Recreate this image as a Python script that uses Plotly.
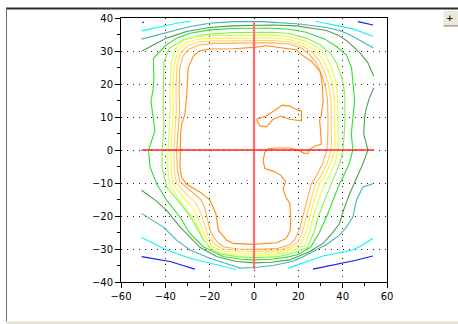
import plotly.graph_objects as go

# ---------------- data ----------------
x_tickvals = [-60, -40, -20, 0, 20, 40, 60]
x_ticktext = ["\u221260", "\u221240", "\u221220", "0", "20", "40", "60"]
y_tickvals = [-40, -30, -20, -10, 0, 10, 20, 30, 40]
y_ticktext = ["\u221240", "\u221230", "\u221220", "\u221210", "0", "10", "20", "30", "40"]

# innermost orange contour
orange_main = [(0, 31.1), (5.6, 31.6), (13.1, 30.9), (19.1, 30.4), (21.4, 28.9), (25.9, 26.9), (29.7, 23.9),
               (30.4, 21.8), (30.9, 18.8), (31.2, 14.8), (30.4, 10.8), (29.6, 8.8), (29.9, 6.8), (30.4, 2.8),
               (30.4, 1.8), (27.5, 1.2), (25.1, 0.2), (24.2, -1.2), (22, -0.8), (19.9, 0), (16.1, 0.6),
               (10.1, 0.6), (6.4, 0.4), (4.9, -0.7), (4.1, -3.2), (4.9, -5.6), (8.6, -6.4), (12.0, -7.6),
               (14.3, -9.6), (13.1, -11.7), (14.3, -14.2), (16.1, -16.2), (16.6, -20.3), (16.4, -24.3),
               (14.6, -26.8), (10.1, -28.1), (0, -28.6), (-9.4, -28.3), (-12.4, -27.3), (-16.1, -24.3),
               (-17.2, -19.2), (-19.9, -15.2), (-24.4, -12.7), (-30.4, -10.4), (-32.7, -8.2), (-33.4, -5.2),
               (-33.4, 0), (-33.1, 4.8), (-32.7, 7.8), (-31.2, 10.8), (-30.4, 15.8), (-30.1, 20.9),
               (-29.7, 24.9), (-27.4, 28.4), (-24.4, 30.1), (-19.9, 30.6), (-9.4, 30.7), (0, 31.1)]
orange_island = [(1.1, 9.3), (2.6, 7.3), (5.6, 7.0), (8.6, 9.3), (12.4, 10.3), (16.1, 9.3), (21.4, 8.8),
                 (21.4, 11.8), (19.9, 12.0), (16.1, 13.3), (12.8, 13.6), (10.1, 12.3), (5.6, 10.3), (1.1, 9.3)]
orange_dot = [(-3.3, -9.0), (-2.9, -9.4)]

ring_light_orange = [(-34.9, 0), (-34.4, 4), (-34, 8), (-33.5, 12), (-33.8, 17), (-33.6, 22), (-33.5, 25),
                     (-32, 28.5), (-29.5, 30.5), (-25, 31.8), (-18, 32.3), (-8, 32.4), (0, 32.4), (8, 32.5),
                     (16, 32.1), (21, 31), (25, 29), (28, 26.5), (30.5, 23), (32.3, 19), (33.2, 15), (33.4, 8),
                     (33.2, 3), (32.9, 0), (31, -4), (28, -8), (25.9, -10.2), (24, -15), (22.1, -20.3),
                     (20.5, -24), (18.5, -27), (16.1, -28.8), (10, -29.9), (0, -30.1), (-7, -30),
                     (-13.5, -29.4), (-16.5, -28), (-19.5, -25), (-21, -21), (-22, -18), (-24, -15),
                     (-29, -12.2), (-33.5, -9.5), (-34.6, -6), (-34.9, 0)]
ring_peach = [(-36.1, 0), (-35.8, 4), (-35.4, 8), (-35, 12), (-35.2, 17), (-35, 22), (-34.8, 25.5),
              (-33.2, 29.2), (-30.3, 31.5), (-25.5, 32.7), (-18, 33.1), (-8, 33.1), (0, 33.1), (8, 33.2),
              (16, 32.8), (22, 31.5), (26.5, 29.5), (29.5, 27), (32, 23.5), (33.8, 19.5), (34.7, 15), (35, 8),
              (35, 3), (34.9, 0), (33, -4), (30, -8), (27.8, -10.2), (25.7, -15), (23.6, -20.3), (22, -24.5),
              (20, -27.8), (16.1, -29.5), (10, -30.5), (0, -30.7), (-7, -30.6), (-14, -30), (-17.5, -28.8),
              (-20.7, -26), (-22.4, -22.5), (-24, -19.2), (-26, -16.2), (-30.7, -13.2), (-35, -10),
              (-36, -6), (-36.1, 0)]
ring_yellow = [(-37.4, 0), (-37.1, 4), (-36.8, 8), (-36.4, 12), (-36.6, 17), (-36.3, 22), (-36, 26),
               (-34.3, 30), (-31, 32.4), (-26, 33.5), (-18, 33.9), (-8, 33.9), (0, 33.9), (8, 34),
               (16, 33.5), (22.5, 32.2), (27.5, 30.3), (31, 27.6), (33.5, 24), (35.4, 20), (36.2, 15),
               (36.5, 8), (36.5, 3), (36.4, 0), (34.6, -4), (31.8, -8), (29.6, -10.2), (27.3, -15),
               (25.1, -20.3), (23.5, -24.8), (21.3, -28.4), (16.1, -30.1), (10, -31.1), (0, -31.3),
               (-7, -31.2), (-14.5, -30.6), (-18.3, -29.4), (-21.6, -26.8), (-23.6, -23.3), (-25.7, -20),
               (-28, -17.3), (-32.4, -14), (-36.5, -10.3), (-37.4, -6), (-37.4, 0)]
ring_yellow_green = [(-38.8, 0), (-38.5, 4), (-38.2, 8), (-37.8, 12), (-38, 17), (-37.6, 22), (-37.3, 26.5),
                     (-35.5, 30.6), (-32, 33.2), (-26, 34.4), (-18, 34.7), (-8, 34.7), (0, 34.7), (8, 34.8),
                     (16, 34.3), (23, 33), (28.5, 31.2), (32.5, 28.5), (35, 25), (37, 20.5), (37.8, 15),
                     (38, 8), (38, 3), (38, 0), (36.5, -4), (33.8, -8), (31.9, -10.2), (29.2, -15),
                     (26.6, -20.3), (25, -25), (22.7, -29), (16.1, -30.8), (10, -31.7), (0, -31.9),
                     (-7, -31.8), (-15, -31.2), (-19, -30), (-22.4, -27.5), (-24.6, -24.2), (-27, -21),
                     (-30, -18.4), (-34, -14.8), (-38, -10.7), (-38.9, -6), (-38.8, 0)]
ring_lime = [(-41.5, 0), (-40.6, 6.8), (-41, 12), (-41, 16.8), (-40.8, 22), (-40.6, 26.9), (-38.1, 30.9),
             (-32, 33.4), (-23, 34.9), (-10, 35.6), (0, 35.7), (8.6, 35.7), (16, 35.3), (23.6, 33.9),
             (30, 31.8), (34.5, 29.3), (37.3, 26.3), (39.8, 21.5), (41, 16.8), (41, 8), (40.5, 3), (40.1, 0),
             (38.8, -4), (36.5, -8), (34.9, -10.2), (32, -15), (28.9, -20.3), (27, -25), (24, -29.6),
             (16.1, -31.5), (10, -32.4), (0, -32.6), (-8, -32.3), (-15, -31.5), (-19.9, -29.6), (-23, -27),
             (-26, -23.2), (-29, -19.8), (-33.4, -16.2), (-36, -14), (-39.4, -11.2), (-41.5, -5.2),
             (-41.5, 0)]
ring_green = [(-47.6, 0), (-44.7, 5.8), (-45.5, 10), (-46.5, 14.8), (-45.6, 18), (-45.2, 21.8), (-45.4, 27.8),
              (-39.4, 31.9), (-34.9, 33.9), (-28.9, 35.4), (-19.9, 36.4), (-10, 36.8), (0, 36.9), (8.6, 36.9),
              (16, 36.6), (23.6, 35.7), (32, 33.6), (37.5, 31.2), (41.7, 28.8), (44, 25), (44.7, 20),
              (45.4, 14.8), (44.5, 9), (43.9, 4.8), (44.6, 0), (43, -4), (40.3, -8), (38.6, -10.2),
              (35.8, -15), (32.7, -20.3), (29.5, -25), (25.5, -29.5), (20, -31.6), (16.1, -32.3), (8, -33.1),
              (0, -33.3), (-6, -33.1), (-13.9, -32.3), (-22.9, -29.3), (-28.9, -25.3), (-33.4, -20.3),
              (-39.4, -15.2), (-43.9, -10.2), (-46.9, -5.2), (-47.6, 0)]
dark_green_top = [(-50.7, 29.9), (-45, 32), (-39.4, 33.9), (-30.4, 35.9), (-20, 37.1), (-10, 37.6), (0, 37.8),
                  (8.6, 37.9), (19.2, 37.6), (27, 36.8), (32.7, 36.2), (38, 34.8), (41.7, 33.2), (44.5, 31.5),
                  (47.7, 29.5), (51.4, 26.4), (54, 22.4)]
dark_green_bottom = [(54, 18.8), (52.1, 15.8), (50.7, 12.8), (49.9, 9.8), (49.5, 4.8), (51.4, 0), (49.1, -4.2),
                     (46, -9), (43.2, -13.2), (40.5, -18), (38.6, -22.3), (35, -25.5), (31.1, -28.3),
                     (25, -30.8), (20, -32.3), (16.1, -33.3), (8, -34), (0, -34.2), (-7.9, -33.8),
                     (-16.9, -32.3), (-24.4, -29.5), (-28.9, -26.5), (-33.4, -23.3), (-39.4, -18.3),
                     (-44, -15.5), (-50.7, -12.2)]
teal_top = [(-50.7, 33.6), (-45, 34.6), (-39.4, 35.4), (-28.9, 37.4), (-19.9, 38.4), (-9.4, 38.9), (4.1, 38.9),
            (20.6, 38.2), (32.7, 37.1), (38.6, 36.2), (43.2, 34.9), (48, 33.2), (53.7, 31)]
teal_bottom = [(53.6, -10.2), (49.1, -11.2), (46.2, -15.2), (44.6, -20.3), (41.5, -23.5), (38.6, -25.8),
               (33, -28.5), (28.2, -30.3), (22, -32.4), (17.6, -33.7), (8.6, -35), (0, -35.6), (-6.4, -35.8),
               (-10.9, -34.8), (-19.9, -32.8), (-28.9, -30.3), (-34.9, -27.3), (-41, -23.3), (-50.7, -19.2)]
cyan_top_left = [(-50.7, 36.1), (-45.4, 36.9), (-39.4, 37.6), (-32.7, 38.7), (-28.9, 38.9)]
cyan_top_right = [(27.8, 39), (35.7, 37.9), (44.7, 36.7), (53.7, 34.5)]
cyan_bottom_left = [(-50.7, -26.5), (-45, -28.5), (-39.4, -30.3), (-28.9, -32.8), (-20, -34.3), (-13.9, -35.3),
                    (-8, -36.2)]
cyan_bottom_right = [(15.4, -35.8), (22, -34.2), (31.1, -32.1), (38, -31.2), (44.6, -30.3), (49, -28.8),
                     (53.6, -26.8)]
blue_top_left = [(-50.4, 38.5), (-49.6, 38.9)]
blue_top_right = [(46.9, 38.9), (50, 38.5), (53.7, 37.9)]
blue_bottom_left = [(-50.7, -32.3), (-45, -33), (-37.9, -33.8), (-32, -35), (-26.7, -36.1)]
blue_bottom_right = [(26.6, -36.1), (33, -35.2), (40.1, -34.3), (46, -33.4), (53.6, -32.1)]

# red cross lines
cross_h = [(-50.7, 0), (54, 0)]
cross_v = [(0, 38.7), (0, -36.1)]

# ---------------- styles ----------------
contours = [
    ([blue_top_left, blue_top_right, blue_bottom_left, blue_bottom_right], "#1414FF"),
    ([cyan_top_left, cyan_top_right, cyan_bottom_left, cyan_bottom_right], "#10F4F8"),
    ([teal_top, teal_bottom], "#44B4B4"),
    ([dark_green_top, dark_green_bottom], "#4E9E4E"),
    ([ring_green], "#2EE02E"),
    ([ring_lime], "#8CF046"),
    ([ring_yellow_green], "#D4FF5A"),
    ([ring_yellow], "#FFF23C"),
    ([ring_peach], "#FFD470"),
    ([ring_light_orange], "#FFAE48"),
    ([orange_main, orange_island, orange_dot], "#FF8A14"),
]

fig = go.Figure()


def add_line(pts, color, width=1.0):
    fig.add_trace(go.Scatter(x=[p[0] for p in pts], y=[p[1] for p in pts], mode="lines",
                             line=dict(color=color, width=width), hoverinfo="skip", showlegend=False))


for segs, col in contours:
    for seg in segs:
        add_line(seg, col, 1.1)

add_line(cross_v, "#FF6E6E", 2.2)
add_line(cross_h, "#FF2222", 1.4)

FONT = dict(family="DejaVu Sans", size=10, color="black")

fig.update_layout(
    width=458, height=324, autosize=False,
    margin=dict(l=121, r=71, t=16, b=42, pad=0),
    paper_bgcolor="white", plot_bgcolor="white",
    showlegend=False, hovermode=False,
    font=FONT,
)
axis_common = dict(
    showline=True, linecolor="black", linewidth=1, mirror=True,
    ticks="outside", ticklen=5, tickwidth=1, tickcolor="black",
    showgrid=True, gridcolor="#222222", gridwidth=1, griddash="1px,5px",
    zeroline=False, tickfont=FONT, tickmode="array",
)
fig.update_xaxes(range=[-60, 60], tickvals=x_tickvals, ticktext=x_ticktext,
                 minor=dict(dtick=10, tick0=0, ticks="outside", ticklen=3, tickcolor="black", showgrid=False),
                 **axis_common)
fig.update_yaxes(range=[-40, 40], tickvals=y_tickvals, ticktext=y_ticktext,
                 minor=dict(dtick=5, tick0=0, ticks="outside", ticklen=3, tickcolor="black", showgrid=False),
                 **axis_common)


# window frame decorations (pixel -> paper conversion)
def px(xp):
    return (xp - 121) / 266.0


def py(yp):
    return (282.0 - yp) / 266.0


shapes = [
    dict(type="line", xref="paper", yref="paper", x0=px(6), x1=px(460), y0=py(6.5), y1=py(6.5),
         line=dict(color="#2E2E2E", width=2)),
    dict(type="line", xref="paper", yref="paper", x0=px(6.5), x1=px(6.5), y0=py(6), y1=py(322),
         line=dict(color="#6A6A6A", width=1)),
    dict(type="rect", xref="paper", yref="paper", x0=px(6), x1=px(460), y0=py(321.5), y1=py(325),
         fillcolor="#E6E4DA", line=dict(width=0)),
    dict(type="rect", xref="paper", yref="paper", x0=px(443.5), x1=px(459), y0=py(9), y1=py(24),
         fillcolor="#ECE9D8", line=dict(width=0)),
    dict(type="line", xref="paper", yref="paper", x0=px(443.5), x1=px(459), y0=py(24), y1=py(24),
         line=dict(color="#8A8A80", width=1.2)),
]
fig.update_layout(shapes=shapes)
fig.add_annotation(xref="paper", yref="paper", x=px(450), y=py(16), text="<b>+</b>", showarrow=False,
                   font=dict(family="DejaVu Sans", size=9, color="#202020"), xanchor="center", yanchor="middle")

fig.write_html("out.html", config={"displayModeBar": False},
               post_script="document.body.style.margin='0';document.body.style.overflow='hidden';")
